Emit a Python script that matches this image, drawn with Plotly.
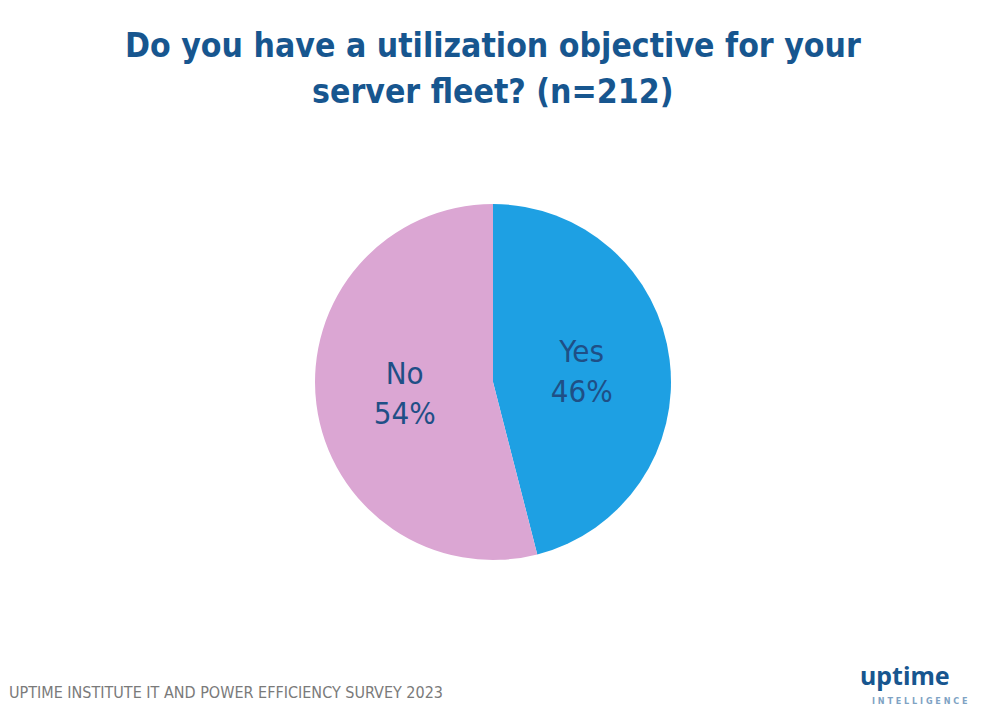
import plotly.graph_objects as go

labels = ["Yes", "No"]
values = [46, 54]
colors = ["#1ea0e3", "#dba6d3"]
title_lines = ["Do you have a utilization objective for your", "server fleet? (n=212)"]
source_text = "UPTIME INSTITUTE IT AND POWER EFFICIENCY SURVEY 2023"

W, H = 992, 717
cx, cy, r = 493, 382, 178
FONT = "Liberation Sans Narrow, DejaVu Sans Condensed, sans-serif"
TITLE_COLOR = "#17568f"

fig = go.Figure(go.Pie(
    labels=labels,
    values=values,
    sort=False,
    direction="clockwise",
    rotation=0,
    marker=dict(colors=colors, line=dict(width=0)),
    texttemplate="%{label}<br>%{percent:.0%}",
    textposition="inside",
    insidetextorientation="horizontal",
    insidetextfont=dict(family=FONT, size=31, color="#1f4f86"),
    showlegend=False,
    hoverinfo="label+percent",
    domain=dict(x=[(cx - r) / W, (cx + r) / W], y=[1 - (cy + r) / H, 1 - (cy - r) / H]),
))

annotations = []
for line, ypx in zip(title_lines, [45, 91]):
    annotations.append(dict(text="<b>" + line + "</b>", x=0.497, y=1 - ypx / H, xref="paper", yref="paper",
                            xanchor="center", yanchor="middle", showarrow=False,
                            font=dict(family=FONT, size=33.5, color=TITLE_COLOR)))
annotations += [
    dict(text=source_text, x=7 / W, y=1 - 692 / H, xref="paper", yref="paper",
         xanchor="left", yanchor="middle", showarrow=False,
         font=dict(family=FONT, size=16, color="#7a7a7a")),
    dict(text="<b>uptime</b>", x=905 / W, y=1 - 675 / H, xref="paper", yref="paper",
         xanchor="center", yanchor="middle", showarrow=False,
         font=dict(family="Noto Sans, sans-serif", size=25, color=TITLE_COLOR)),
    dict(text="<b>I N T E L L I G E N C E</b>", x=920 / W, y=1 - 701 / H, xref="paper", yref="paper",
         xanchor="center", yanchor="middle", showarrow=False,
         font=dict(family="DejaVu Sans Condensed, sans-serif", size=9, color="#7fa3c4")),
]

fig.update_layout(
    width=W, height=H,
    margin=dict(l=0, r=0, t=0, b=0),
    paper_bgcolor="white",
    plot_bgcolor="white",
    annotations=annotations,
)

fig.write_html("out.html", config={"displayModeBar": False},
               post_script="document.body.style.margin='0';document.body.style.overflow='hidden';")
